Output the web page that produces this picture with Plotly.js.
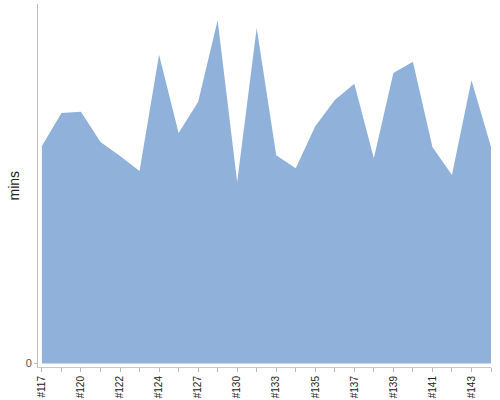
<!DOCTYPE html>
<html>
<head>
<meta charset="utf-8">
<script src="https://cdn.plot.ly/plotly-3.0.1.min.js"></script>
<style>
  html, body { margin: 0; padding: 0; background: #fff; }
  #chart { width: 500px; height: 400px; }
</style>
</head>
<body>
<div id="chart"></div>
<script>
const builds = ['#117', '#118', '#120', '#121', '#122', '#123', '#124', '#125',
  '#127', '#128', '#130', '#131', '#133', '#134', '#135', '#136',
  '#137', '#138', '#139', '#140', '#141', '#142', '#143', '#144'];
const minutes = [60.5, 69.7, 70.0, 61.6, 57.7, 53.5, 85.9, 64.1,
  72.7, 95.5, 50.5, 93.3, 57.9, 54.3, 66.0, 73.3,
  77.8, 57.1, 80.8, 83.9, 60.2, 52.4, 78.8, 60.2];
// only every other build gets a label
const tickLabels = builds.map((b, i) => (i % 2 === 0 ? b : ''));

const trace = {
  type: 'scatter',
  mode: 'lines',
  x: builds.map((_, i) => i),
  y: minutes,
  fill: 'tozeroy',
  fillcolor: 'rgb(143,177,218)',
  line: { width: 0, color: 'rgb(143,177,218)' },
  hoverinfo: 'x+y'
};

const layout = {
  width: 500,
  height: 400,
  margin: { l: 38, r: 9, t: 4, b: 33 },
  paper_bgcolor: '#fff',
  plot_bgcolor: '#fff',
  showlegend: false,
  font: { family: 'Liberation Sans, Arial, sans-serif', color: '#333' },
  xaxis: {
    range: [-0.2, 23],
    tickmode: 'array',
    tickvals: builds.map((_, i) => i),
    ticktext: tickLabels,
    tickangle: -90,
    tickfont: { size: 10, color: '#222' },
    ticks: 'outside',
    ticklen: 4,
    tickcolor: '#bbb',
    showline: true,
    linecolor: '#c8c8c8',
    linewidth: 1,
    showgrid: false,
    zeroline: false,
    automargin: false
  },
  yaxis: {
    range: [-1, 100],
    tickmode: 'array',
    tickvals: [0],
    ticktext: ['0'],
    tickfont: { size: 11, color: '#555' },
    ticks: 'outside',
    ticklen: 3,
    tickcolor: '#bbb',
    showline: true,
    linecolor: '#bbb',
    linewidth: 1,
    showgrid: false,
    zeroline: false,
    automargin: false
  },
  // axis label placed by hand, standoff is ignored without automargin
  annotations: [{
    text: 'mins',
    textangle: -90,
    xref: 'paper', yref: 'paper',
    x: -0.053, y: 0.5,
    xanchor: 'center', yanchor: 'middle',
    showarrow: false,
    font: { size: 14, color: '#222' }
  }]
};

Plotly.newPlot('chart', [trace], layout, { displayModeBar: false, staticPlot: true });
</script>
</body>
</html>
